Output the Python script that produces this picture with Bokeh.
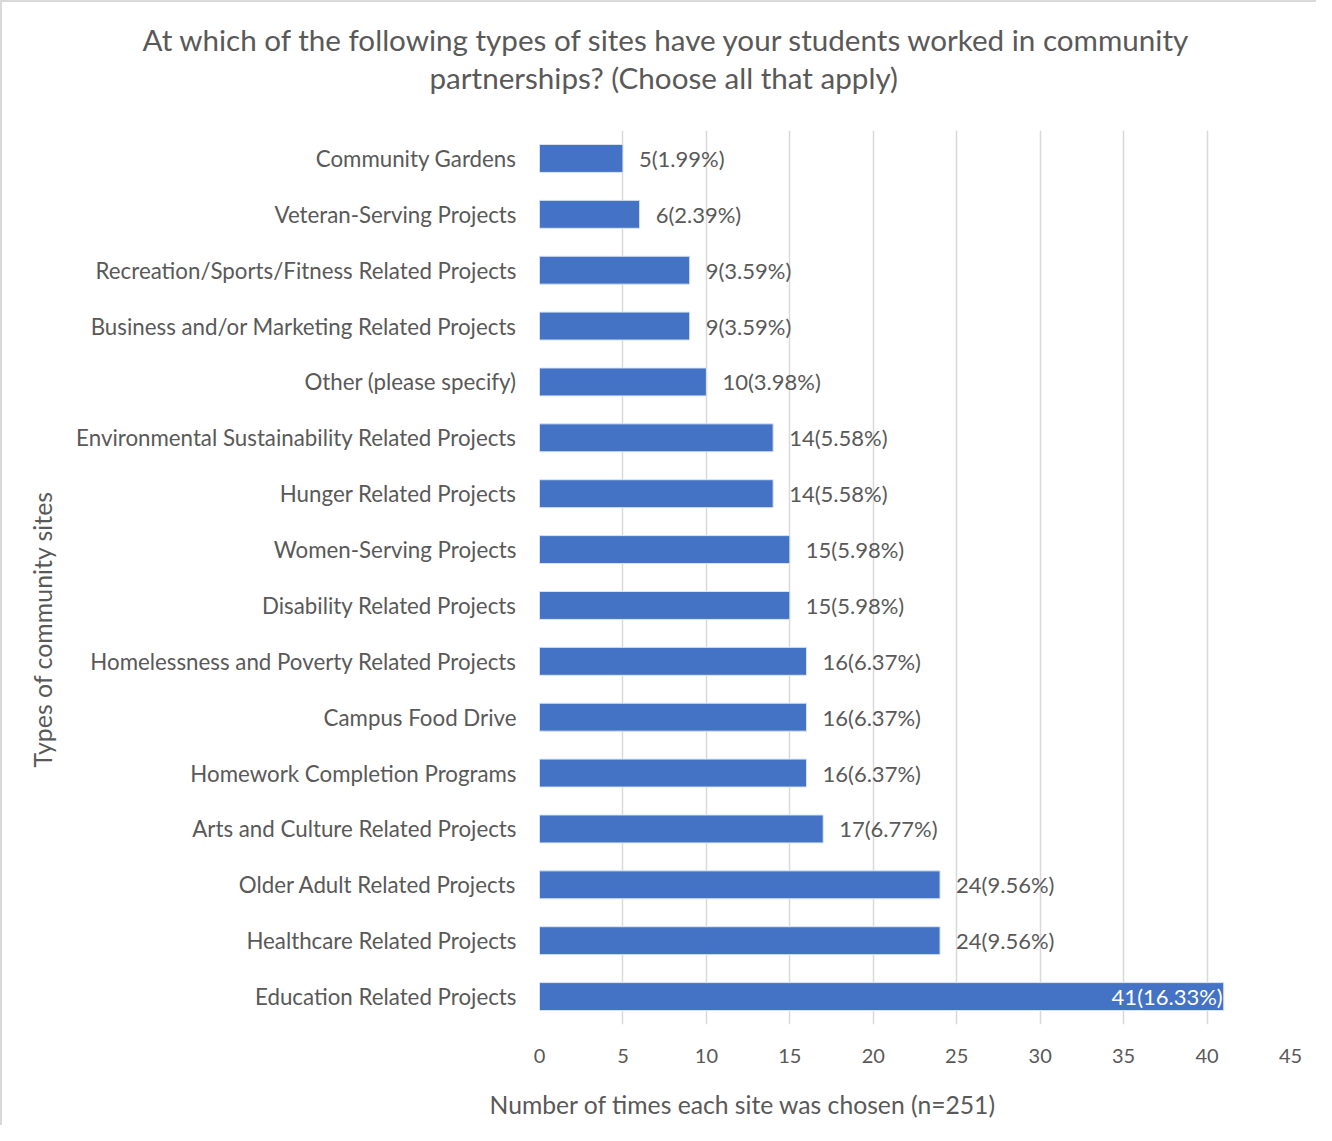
from bokeh.plotting import figure
from bokeh.models import ColumnDataSource, FactorRange, Range1d, Title, FixedTicker
from bokeh.core.properties import value
from bokeh.embed import file_html
from bokeh.resources import INLINE

categories = [
    "Community Gardens",
    "Veteran-Serving Projects",
    "Recreation/Sports/Fitness Related Projects",
    "Business and/or Marketing Related Projects",
    "Other (please specify)",
    "Environmental Sustainability Related Projects",
    "Hunger Related Projects",
    "Women-Serving Projects",
    "Disability Related Projects",
    "Homelessness and Poverty Related Projects",
    "Campus Food Drive",
    "Homework Completion Programs",
    "Arts and Culture Related Projects",
    "Older Adult Related Projects",
    "Healthcare Related Projects",
    "Education Related Projects",
]
counts = [5, 6, 9, 9, 10, 14, 14, 15, 15, 16, 16, 16, 17, 24, 24, 41]
percents = ["1.99%", "2.39%", "3.59%", "3.59%", "3.98%", "5.58%", "5.58%", "5.98%",
            "5.98%", "6.37%", "6.37%", "6.37%", "6.77%", "9.56%", "9.56%", "16.33%"]
x_ticks = [0, 5, 10, 15, 20, 25, 30, 35, 40, 45]

title_line1 = "At which of the following types of sites have your students worked in community"
title_line2 = "partnerships? (Choose all that apply)"
x_title = "Number of times each site was chosen (n=251)"
y_title = "Types of community sites"

FONT = "Lato"
GRAY = "#595959"
BAR = "#4472C4"

labels = [f"{c}({p})" for c, p in zip(counts, percents)]
outside = [c < 40 for c in counts]

src_out = ColumnDataSource(dict(
    y=[cat for cat, o in zip(categories, outside) if o],
    x=[c for c, o in zip(counts, outside) if o],
    t=[l for l, o in zip(labels, outside) if o],
))
src_in = ColumnDataSource(dict(
    y=[cat for cat, o in zip(categories, outside) if not o],
    x=[c for c, o in zip(counts, outside) if not o],
    t=[l for l, o in zip(labels, outside) if not o],
))
src = ColumnDataSource(dict(y=categories, x=counts))

p = figure(
    width=1316, height=1125,
    y_range=FactorRange(factors=list(reversed(categories))),
    x_range=Range1d(0, 45),
    output_backend="svg", toolbar_location=None,
    min_border_left=537, min_border_right=28, min_border_top=128, min_border_bottom=103,
)
p.styles = {"border-left": "2px solid #d9d9d9", "border-top": "2px solid #d9d9d9",
            "box-sizing": "border-box"}
p.outline_line_color = None
p.background_fill_color = "white"

p.hbar(y="y", right="x", left=0, height=0.5, source=src,
       fill_color=BAR, line_color="#dbe4f5", line_width=1)

p.text(x="x", y="y", text="t", source=src_out, x_offset=16,
       text_align="left", text_baseline="middle",
       text_font=value(FONT), text_font_size="22px", text_color=GRAY)
p.text(x="x", y="y", text="t", source=src_in, x_offset=-1,
       text_align="right", text_baseline="middle",
       text_font=value(FONT), text_font_size="22px", text_color="white")

p.ygrid.grid_line_color = None
p.xgrid.grid_line_color = "#d9d9d9"
p.xgrid.grid_line_width = 1.5
p.xaxis.ticker = FixedTicker(ticks=x_ticks)

for ax in (p.xaxis, p.yaxis):
    ax.axis_line_color = None
    ax.major_tick_line_color = None
    ax.minor_tick_line_color = None
    ax.major_tick_out = 0
    ax.major_tick_in = 0
    ax.major_label_text_font = FONT
    ax.major_label_text_color = GRAY
p.xaxis.major_label_text_font_size = "20px"
p.yaxis.major_label_text_font_size = "22.3px"
p.xaxis.major_label_standoff = 24
p.yaxis.major_label_standoff = 23

# top: spacer + two title lines (stacked outward from the frame)
p.add_layout(Title(text=" ", text_font_size="1px", standoff=31), "above")
p.add_layout(Title(text=title_line2, align="left", offset=-110, vertical_align="middle",
                   text_font=FONT, text_font_size="29.6px", text_font_style="normal",
                   text_color=GRAY, standoff=0.5), "above")
p.add_layout(Title(text=title_line1, align="left", offset=-397, vertical_align="middle",
                   text_font=FONT, text_font_size="29.6px", text_font_style="normal",
                   text_color=GRAY, standoff=0.5), "above")

# bottom: spacer + x axis title
p.add_layout(Title(text=" ", text_font_size="1px", standoff=20), "below")
p.add_layout(Title(text=x_title, align="left", offset=-50, vertical_align="middle",
                   text_font=FONT, text_font_size="24.7px", text_font_style="normal",
                   text_color=GRAY, standoff=0), "below")

# left: y axis title
p.add_layout(Title(text=y_title, align="left", offset=257, vertical_align="middle",
                   text_font=FONT, text_font_size="24.9px", text_font_style="normal",
                   text_color=GRAY, standoff=32), "left")

open("out.html", "w").write(file_html(p, INLINE))
